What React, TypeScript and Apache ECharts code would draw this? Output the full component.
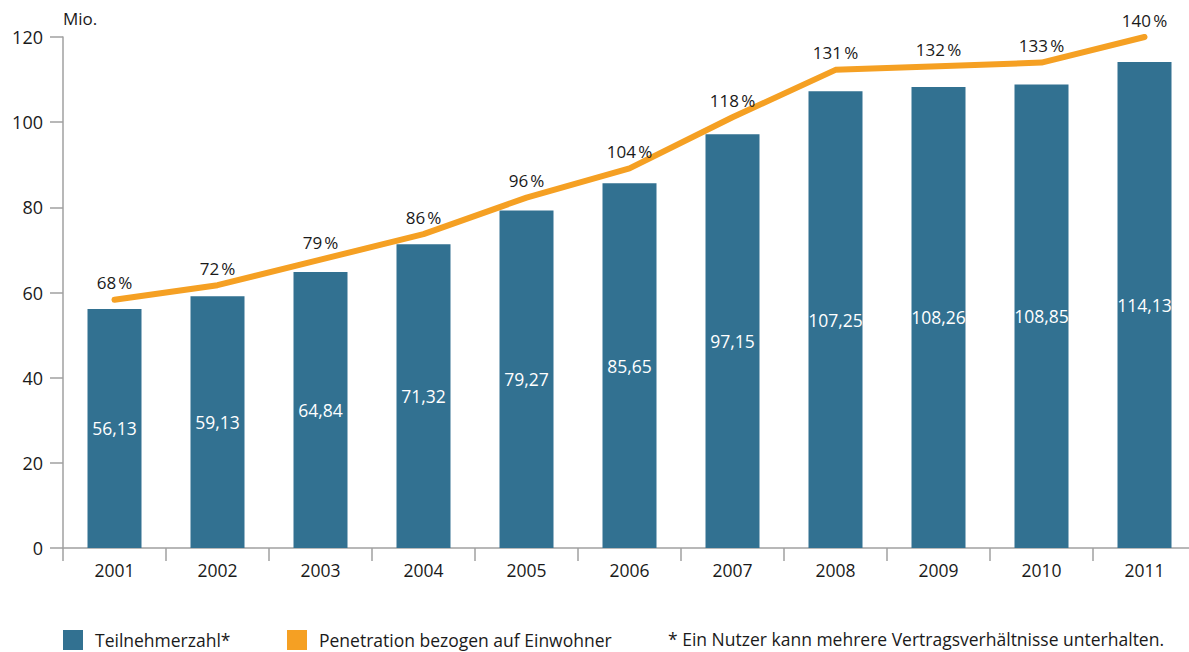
import React, { useEffect, useRef } from "react";
import * as echarts from "echarts";

const years = ["2001", "2002", "2003", "2004", "2005", "2006", "2007", "2008", "2009", "2010", "2011"];
const subscribers = [56.13, 59.13, 64.84, 71.32, 79.27, 85.65, 97.15, 107.25, 108.26, 108.85, 114.13];
const penetration = [68, 72, 79, 86, 96, 104, 118, 131, 132, 133, 140];
const yTicks = { min: 0, max: 120, interval: 20 };
const barName = "Teilnehmerzahl*";
const lineName = "Penetration bezogen auf Einwohner";
const footnote = "* Ein Nutzer kann mehrere Vertragsverhältnisse unterhalten.";

const FONT = "'Open Sans', 'Noto Sans', sans-serif";
const BLUE = "#327191";
const ORANGE = "#F5A023";
const AXIS = "#a0a0a0";
const TEXT = "#1a1a1a";

export default function App() {
  const ref = useRef<HTMLDivElement>(null);
  useEffect(() => {
    if (!ref.current) return;
    const chart = echarts.init(ref.current, undefined, { renderer: "svg" });
    const legendText = { fontFamily: FONT, fontSize: 17.5, color: TEXT, padding: [0, 0, 0, 7] };
    chart.setOption({
      animation: false,
      textStyle: { fontFamily: FONT },
      grid: {
        left: 63,
        top: 37,
        width: 1133,
        height: 511,
        containLabel: false,
        outerBoundsMode: "none",
      },
      legend: [
        {
          data: [{ name: barName, icon: "rect" }],
          left: 58,
          top: 625,
          itemWidth: 20,
          itemHeight: 20,
          textStyle: legendText,
        },
        {
          data: [{ name: lineName, icon: "rect" }],
          left: 282,
          top: 625,
          itemWidth: 20,
          itemHeight: 20,
          textStyle: legendText,
        },
      ],
      graphic: [
        {
          type: "text",
          left: 668,
          top: 630,
          style: { text: footnote, fontFamily: FONT, fontSize: 17.5, fill: TEXT },
        },
      ],
      xAxis: {
        type: "category",
        data: years,
        boundaryGap: true,
        axisLine: { lineStyle: { color: AXIS, width: 1.5 } },
        axisTick: { show: true, length: 13, lineStyle: { color: AXIS, width: 1.5 } },
        axisLabel: { color: TEXT, fontSize: 17.5, fontFamily: FONT, margin: 13 },
      },
      yAxis: [
        {
          type: "value",
          min: yTicks.min,
          max: yTicks.max,
          interval: yTicks.interval,
          name: "Mio.",
          nameLocation: "end",
          nameGap: 10,
          nameTextStyle: { align: "left", color: TEXT, fontSize: 17, fontFamily: FONT },
          axisLine: { show: true, lineStyle: { color: AXIS, width: 1.5 } },
          axisTick: { show: true, length: 13, lineStyle: { color: AXIS, width: 1.5 } },
          splitLine: { show: false },
          axisLabel: { color: TEXT, fontSize: 18, fontFamily: FONT, margin: 20 },
        },
        {
          type: "value",
          min: 0,
          max: 140,
          show: false,
          splitLine: { show: false },
        },
      ],
      series: [
        {
          name: barName,
          type: "bar",
          data: subscribers,
          barWidth: 54,
          itemStyle: { color: BLUE },
          label: {
            show: true,
            position: "inside",
            color: "#ffffff",
            fontSize: 17.5,
            fontFamily: FONT,
            formatter: (p: any) => p.value.toFixed(2).replace(".", ","),
          },
        },
        {
          name: lineName,
          type: "line",
          yAxisIndex: 1,
          data: penetration,
          symbol: "circle",
          symbolSize: 1,
          showSymbol: true,
          lineStyle: { color: ORANGE, width: 6, cap: "round", join: "round" },
          itemStyle: { color: ORANGE },
          label: {
            show: true,
            position: "top",
            distance: 8,
            color: TEXT,
            fontSize: 17,
            fontFamily: FONT,
            formatter: (p: any) => `${p.value}\u202F%`,
          },
        },
      ],
    });
    return () => chart.dispose();
  }, []);
  return <div ref={ref} style={{ width: 1189, height: 652, position: "absolute", left: 0, top: 0 }} />;
}
